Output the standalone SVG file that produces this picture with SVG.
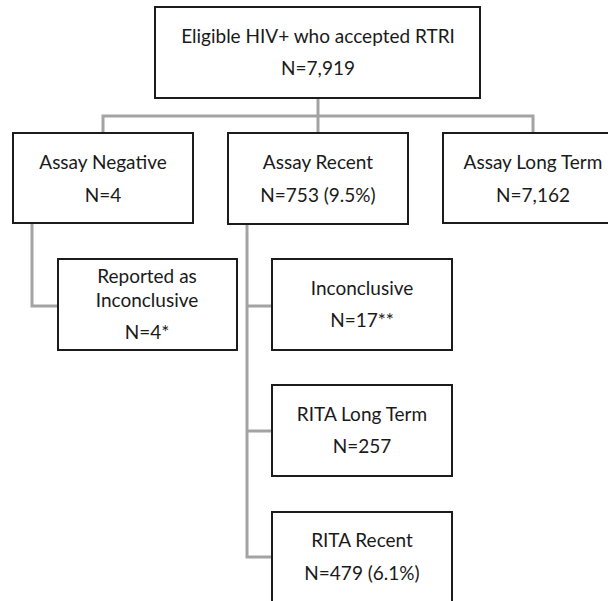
<svg xmlns="http://www.w3.org/2000/svg" width="608" height="601" viewBox="0 0 608 601">
<style>
.box{fill:#ffffff;stroke:#1c1c1c;stroke-width:2}
.t{font-family:Lato,"Open Sans","Liberation Sans",sans-serif;font-size:19px;fill:#1a1a1a;text-anchor:middle}
.c{fill:none;stroke:#a3a3a3;stroke-width:3}
</style>
<rect width="608" height="601" fill="#ffffff"/>
<g id="connectors">
<path class="c" d="M318 98 V133"/>
<path class="c" d="M103 133 V116 H533 V133"/>
<path class="c" d="M32 223 V306 H58"/>
<path class="c" d="M247 224 V557 H272"/>
<path class="c" d="M247 306 H272"/>
<path class="c" d="M247 431 H272"/>
</g>
<g id="n_top"><rect class="box" x="155" y="7" width="325" height="91"/><text class="t" x="318" y="43">Eligible HIV+ who accepted RTRI</text><text class="t" x="318" y="75">N=7,919</text></g>
<g id="n_neg"><rect class="box" x="13" y="133" width="180" height="90"/><text class="t" x="103" y="169">Assay Negative</text><text class="t" x="103" y="202">N=4</text></g>
<g id="n_recent"><rect class="box" x="228" y="133" width="180" height="91"/><text class="t" x="318" y="169">Assay Recent</text><text class="t" x="318" y="202">N=753 (9.5%)</text></g>
<g id="n_long"><rect class="box" x="443" y="133" width="180" height="90"/><text class="t" x="533" y="169">Assay Long Term</text><text class="t" x="533" y="202">N=7,162</text></g>
<g id="n_reported"><rect class="box" x="58" y="259" width="179" height="91"/><text class="t" x="147" y="283">Reported as</text><text class="t" x="147" y="307">Inconclusive</text><text class="t" x="147" y="339">N=4*</text></g>
<g id="n_inconc"><rect class="box" x="272" y="259" width="180" height="91"/><text class="t" x="362" y="295">Inconclusive</text><text class="t" x="362" y="327">N=17**</text></g>
<g id="n_ritalong"><rect class="box" x="272" y="385" width="180" height="91"/><text class="t" x="362" y="421">RITA Long Term</text><text class="t" x="362" y="453">N=257</text></g>
<g id="n_ritarecent"><rect class="box" x="272" y="512" width="180" height="100"/><text class="t" x="362" y="547">RITA Recent</text><text class="t" x="362" y="580">N=479 (6.1%)</text></g>
</svg>
